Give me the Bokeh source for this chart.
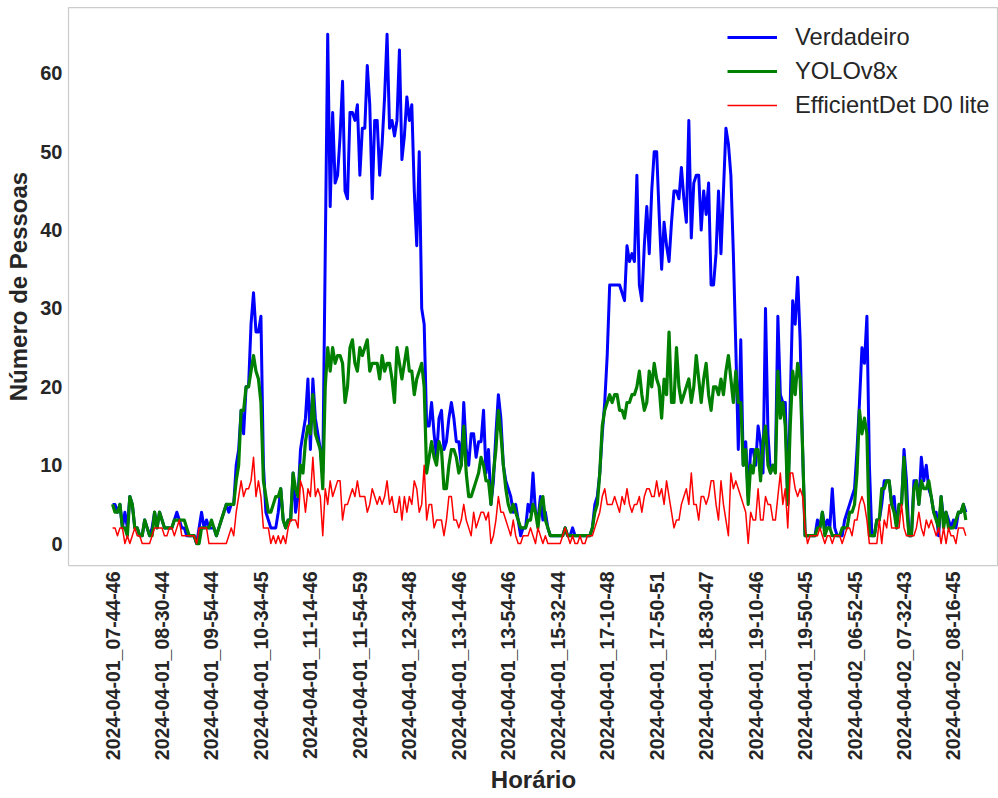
import math
from bokeh.plotting import figure
from bokeh.models import Range1d, FixedTicker, Legend, LegendItem, ColumnDataSource, Title
from bokeh.embed import file_html
from bokeh.resources import INLINE

# ---- data -------------------------------------------------------------
tick_positions = list(range(0, 341, 20))
tick_labels = [
    "2024-04-01_07-44-46", "2024-04-01_08-30-44", "2024-04-01_09-54-44",
    "2024-04-01_10-34-45", "2024-04-01_11-14-46", "2024-04-01_11-54-59",
    "2024-04-01_12-34-48", "2024-04-01_13-14-46", "2024-04-01_13-54-46",
    "2024-04-01_15-32-44", "2024-04-01_17-10-48", "2024-04-01_17-50-51",
    "2024-04-01_18-30-47", "2024-04-01_19-10-46", "2024-04-01_19-50-45",
    "2024-04-02_06-52-45", "2024-04-02_07-32-43", "2024-04-02_08-16-45",
]
y_ticks = [0, 10, 20, 30, 40, 50, 60]

verdadeiro = [
    5, 5, 4, 5, 2, 4, 2, 6, 5, 2,
    2, 1, 1, 3, 2, 1, 2, 4, 2, 4,
    3, 2, 2, 2, 2, 3, 4, 3, 2, 2,
    1, 1, 1, 1, 0, 2, 4, 2, 3, 2,
    2, 2, 1, 2, 3, 4, 5, 4, 5, 5,
    10, 12, 17, 14, 20, 20, 28, 32, 27, 27,
    29, 10, 4, 3, 2, 2, 2, 4, 7, 3,
    2, 3, 3, 9, 4, 6, 12, 14, 16, 21,
    12, 21, 16, 14, 12, 9, 37, 65, 43, 55,
    46, 47, 52, 59, 45, 44, 55, 55, 54, 56,
    47, 53, 53, 61, 56, 44, 54, 54, 47, 51,
    57, 65, 53, 54, 52, 54, 63, 49, 52, 57,
    54, 56, 45, 38, 50, 30, 28, 15, 15, 18,
    14, 11, 16, 17, 12, 13, 16, 18, 16, 13,
    13, 10, 18, 12, 10, 14, 14, 11, 13, 13,
    17, 9, 12, 5, 8, 14, 19, 16, 10, 8,
    7, 6, 4, 5, 3, 1, 2, 2, 5, 4,
    9, 4, 3, 6, 3, 4, 2, 1, 1, 1,
    1, 1, 1, 2, 1, 1, 2, 1, 1, 1,
    1, 1, 1, 1, 2, 5, 6, 9, 14, 18,
    24, 33, 33, 33, 33, 33, 32, 31, 38, 36,
    37, 36, 47, 33, 31, 38, 43, 37, 45, 50,
    50, 42, 35, 41, 38, 36, 41, 45, 45, 44,
    48, 44, 41, 54, 39, 46, 47, 47, 40, 45,
    42, 46, 33, 33, 37, 45, 37, 45, 53, 51,
    47, 37, 25, 12, 26, 10, 13, 6, 12, 12,
    10, 15, 13, 9, 30, 14, 9, 10, 10, 29,
    19, 18, 18, 5, 18, 31, 28, 34, 26, 12,
    1, 1, 1, 1, 1, 3, 2, 4, 2, 3,
    2, 7, 2, 1, 1, 1, 3, 4, 5, 6,
    7, 12, 18, 25, 23, 29, 10, 1, 1, 3,
    3, 5, 8, 8, 8, 5, 6, 2, 5, 5,
    12, 8, 1, 1, 8, 8, 5, 11, 8, 10,
    7, 6, 4, 4, 1, 6, 3, 4, 3, 2,
    3, 2, 4, 4, 5, 4,
]

yolov8x = [
    5, 4, 4, 5, 2, 2, 1, 6, 5, 2,
    2, 1, 1, 3, 2, 1, 1, 4, 2, 4,
    3, 2, 2, 2, 2, 3, 3, 3, 3, 3,
    2, 1, 1, 1, 0, 0, 2, 2, 2, 2,
    3, 2, 1, 2, 3, 4, 5, 5, 5, 5,
    8, 10, 17, 17, 20, 20, 22, 24, 22, 21,
    18, 8, 6, 4, 4, 5, 6, 6, 7, 3,
    2, 3, 3, 9, 7, 6, 10, 9, 13, 15,
    14, 19, 14, 13, 12, 7, 20, 25, 22, 25,
    23, 24, 24, 23, 18, 20, 25, 26, 23, 22,
    25, 24, 25, 26, 22, 23, 23, 23, 21, 24,
    22, 23, 23, 21, 18, 25, 23, 21, 23, 25,
    22, 22, 19, 21, 22, 23, 20, 9, 11, 13,
    11, 10, 13, 12, 7, 7, 10, 12, 12, 11,
    9, 10, 15, 9, 6, 6, 7, 8, 9, 11,
    10, 8, 8, 5, 9, 12, 17, 14, 10, 7,
    5, 4, 5, 4, 3, 2, 2, 2, 3, 3,
    5, 4, 2, 5, 6, 3, 2, 1, 1, 1,
    1, 1, 1, 2, 1, 1, 1, 1, 1, 1,
    1, 1, 1, 1, 2, 4, 5, 9, 15, 17,
    18, 19, 18, 19, 19, 17, 17, 16, 18, 18,
    19, 19, 20, 22, 19, 17, 18, 22, 20, 23,
    21, 20, 16, 21, 19, 27, 18, 18, 25, 20,
    18, 19, 20, 21, 18, 20, 24, 21, 18, 21,
    23, 19, 17, 20, 20, 19, 21, 19, 22, 24,
    21, 18, 22, 18, 18, 10, 12, 5, 10, 9,
    12, 12, 8, 13, 15, 10, 9, 10, 9, 22,
    16, 18, 15, 5, 15, 22, 19, 23, 21, 12,
    1, 1, 1, 1, 1, 2, 2, 4, 1, 2,
    2, 1, 1, 1, 1, 2, 2, 2, 4, 4,
    5, 9, 17, 14, 16, 14, 1, 1, 1, 3,
    3, 7, 7, 8, 8, 5, 4, 2, 5, 5,
    11, 5, 1, 1, 7, 8, 5, 8, 7, 7,
    8, 6, 4, 3, 2, 6, 2, 4, 2, 2,
    2, 3, 4, 4, 5, 3,
]

efficientdet_d0_lite = [
    2, 2, 1, 2, 2, 0, 1, 0, 1, 2,
    1, 1, 0, 0, 0, 0, 1, 2, 2, 2,
    2, 1, 1, 2, 2, 1, 2, 3, 1, 1,
    1, 1, 1, 1, 0, 2, 2, 2, 2, 0,
    0, 0, 0, 0, 0, 0, 0, 1, 2, 1,
    4, 6, 8, 6, 7, 7, 8, 11, 6, 8,
    6, 2, 2, 2, 0, 1, 0, 1, 0, 1,
    0, 2, 3, 3, 3, 2, 8, 7, 4, 7,
    6, 11, 6, 7, 6, 1, 7, 5, 8, 6,
    7, 8, 8, 3, 5, 5, 6, 7, 6, 8,
    6, 6, 6, 4, 5, 7, 6, 5, 6, 5,
    6, 8, 5, 6, 4, 4, 6, 3, 6, 4,
    6, 5, 8, 7, 4, 5, 10, 3, 5, 5,
    2, 3, 3, 3, 1, 3, 6, 6, 3, 3,
    2, 3, 5, 3, 2, 1, 4, 2, 3, 4,
    4, 3, 4, 0, 1, 3, 6, 4, 4, 3,
    2, 1, 3, 1, 0, 0, 1, 1, 1, 2,
    1, 0, 2, 1, 0, 1, 0, 0, 0, 0,
    0, 0, 1, 2, 1, 0, 1, 0, 0, 1,
    0, 0, 1, 1, 1, 2, 3, 4, 6, 7,
    5, 5, 5, 6, 5, 4, 6, 5, 7, 5,
    4, 5, 5, 6, 4, 6, 7, 7, 6, 6,
    8, 6, 7, 5, 8, 6, 4, 2, 3, 3,
    5, 6, 7, 5, 9, 5, 5, 3, 6, 6,
    5, 6, 8, 8, 5, 3, 8, 5, 3, 1,
    9, 7, 8, 7, 6, 5, 4, 0, 4, 3,
    3, 7, 3, 3, 6, 5, 5, 3, 3, 6,
    9, 5, 7, 2, 9, 9, 7, 6, 7, 6,
    2, 0, 1, 1, 1, 1, 2, 1, 0, 1,
    1, 0, 1, 1, 1, 0, 1, 2, 2, 1,
    3, 3, 5, 6, 5, 3, 0, 0, 0, 0,
    3, 0, 3, 2, 5, 2, 2, 2, 2, 5,
    2, 1, 1, 1, 1, 2, 4, 2, 1, 3,
    2, 3, 2, 1, 2, 0, 2, 0, 2, 1,
    1, 0, 2, 2, 2, 1,
]

series_names = ["Verdadeiro", "YOLOv8x", "EfficientDet D0 lite"]
series_colors = ["#0000ff", "#008000", "#ff0000"]
series_widths = [3.0, 3.2, 1.5]
x_title = "Horário"
y_title = "Número de Pessoas"

# ---- figure -----------------------------------------------------------
idx = list(range(len(verdadeiro)))
source = ColumnDataSource(dict(x=idx, v=verdadeiro, y=yolov8x, e=efficientdet_d0_lite))

FONT = "Liberation Sans"
TXT = "#262626"

W, H = 998, 792
# frame: x 68..998, y 7..566
p = figure(width=W, height=H, output_backend="svg", toolbar_location=None,
           x_range=Range1d(-17.8, 358.2), y_range=Range1d(-2.80, 68.41),
           min_border_left=68, min_border_right=0, min_border_top=7,
           min_border_bottom=226)

p.background_fill_color = "white"
p.border_fill_color = "white"
p.outline_line_color = "#cccccc"
p.outline_line_width = 1.25
p.xgrid.visible = False
p.ygrid.visible = False

p.xaxis.ticker = FixedTicker(ticks=tick_positions)
p.xaxis.major_label_overrides = {t: lab for t, lab in zip(tick_positions, tick_labels)}
p.xaxis.major_label_orientation = math.pi / 2
p.yaxis.ticker = FixedTicker(ticks=y_ticks)

for ax in (p.xaxis, p.yaxis):
    ax.axis_line_color = None
    ax.major_tick_line_color = None
    ax.minor_tick_line_color = None
    ax.major_tick_out = 0
    ax.major_tick_in = 0
    ax.major_label_text_font = FONT
    ax.major_label_text_font_style = "bold"
    ax.major_label_text_color = TXT
    ax.axis_label_text_font = FONT
    ax.axis_label_text_font_style = "bold"
    ax.axis_label_text_font_size = "24px"
    ax.axis_label_text_color = TXT

p.xaxis.major_label_text_font_size = "19.5px"
p.yaxis.major_label_text_font_size = "20px"
p.xaxis.major_label_standoff = 6
p.yaxis.major_label_standoff = 6
p.yaxis.axis_label = y_title
p.yaxis.axis_label_standoff = 5

xt = Title(text=x_title, align="center", text_font=FONT, text_font_style="bold",
           text_font_size="24px", text_color=TXT, standoff=0)
p.add_layout(xt, "below")

renderers = []
for col, color, lw in zip(["v", "y", "e"], series_colors, series_widths):
    r = p.line("x", col, source=source, line_color=color, line_width=lw,
               line_join="round")
    renderers.append(r)

legend = Legend(items=[LegendItem(label=n, renderers=[r]) for n, r in zip(series_names, renderers)],
                location=(659, 446))
legend.label_text_font = FONT
legend.label_text_font_size = "23.7px"
legend.label_text_color = TXT
legend.glyph_width = 50
legend.glyph_height = 28
legend.label_height = 28
legend.label_standoff = 18
legend.spacing = 6
legend.padding = 0
legend.margin = 0
legend.border_line_color = None
legend.background_fill_alpha = 0
p.add_layout(legend)

open("out.html", "w").write(file_html(p, INLINE))
